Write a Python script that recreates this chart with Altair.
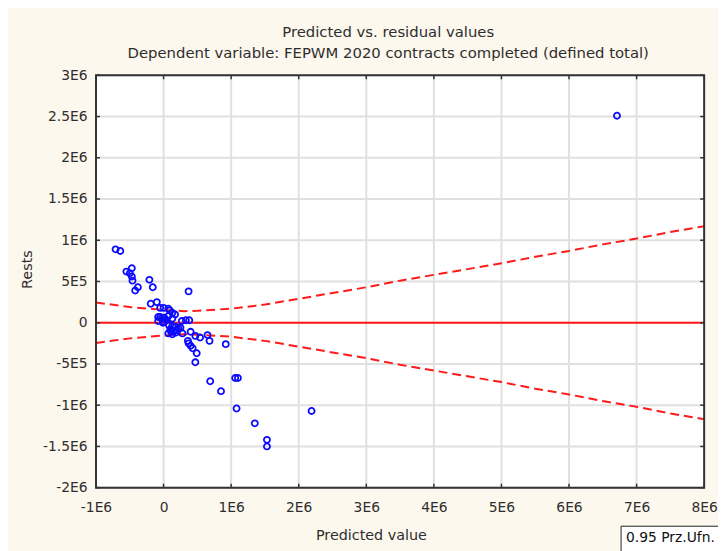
import altair as alt
import pandas as pd

# ---------------- text ----------------
title_lines = [
    "Predicted vs. residual values",
    "Dependent variable: FEPWM 2020 contracts completed (defined total)",
]
x_title = "Predicted value"
y_title = "Rests"
legend_text = "0.95 Prz.Ufn."

# ---------------- axes ----------------
x_ticks = [-1000000, 0, 1000000, 2000000, 3000000, 4000000, 5000000, 6000000, 7000000, 8000000]
x_tick_labels = ["-1E6", "0", "1E6", "2E6", "3E6", "4E6", "5E6", "6E6", "7E6", "8E6"]
y_ticks = [-2000000, -1500000, -1000000, -500000, 0, 500000, 1000000, 1500000, 2000000, 2500000, 3000000]
y_tick_labels = ["-2E6", "-1.5E6", "-1E6", "-5E5", "0", "5E5", "1E6", "1.5E6", "2E6", "2.5E6", "3E6"]
x_min, x_max = -1000000, 8000000
y_min, y_max = -2000000, 3000000

# ---------------- data (values in millions) ----------------
pred_e6 = [
    -0.71, -0.64, -0.55, -0.47, -0.50, -0.47, -0.46, -0.38, -0.42, -0.21, -0.16, 0.37,
    -0.19, -0.10, -0.05, 0.00, 0.07, 0.09, 0.13, 0.17,
    -0.08, -0.05, -0.03, 0.01, 0.04, 0.07, 0.13, 0.03, -0.08, -0.01, 0.01, 0.27, 0.33, 0.38,
    0.08, 0.13, 0.18, 0.22, 0.25, 0.10, 0.15, 0.20, 0.07, 0.13, 0.18, 0.11, 0.28,
    0.40, 0.47, 0.54, 0.65, 0.68, 0.36, 0.37, 0.40, 0.43, 0.49, 0.47, 0.92,
    0.69, 0.85, 1.06, 1.10, 1.08, 1.35, 1.53, 1.53, 2.19, 6.71,
]
resid_e6 = [
    0.89, 0.87, 0.62, 0.66, 0.60, 0.56, 0.51, 0.43, 0.39, 0.52, 0.43, 0.38,
    0.23, 0.25, 0.18, 0.18, 0.17, 0.15, 0.12, 0.10,
    0.07, 0.07, 0.05, 0.06, 0.03, 0.08, 0.05, 0.04, 0.02, 0.00, 0.01, 0.02, 0.03, 0.03,
    -0.03, -0.04, -0.05, -0.07, -0.06, -0.08, -0.10, -0.09, -0.13, -0.14, -0.12, -0.11, -0.13,
    -0.11, -0.16, -0.18, -0.15, -0.22, -0.22, -0.25, -0.28, -0.31, -0.37, -0.48, -0.26,
    -0.71, -0.83, -0.67, -0.67, -1.04, -1.22, -1.42, -1.50, -1.07, 2.51,
]

band_x_e6 = [-1.0, -0.5, 0.0, 0.3, 0.5, 1.0, 1.5, 2.0, 2.5, 3.0, 3.5, 4.0, 4.5, 5.0, 5.5, 6.0, 6.5, 7.0, 7.5, 8.0]
band_upper_e6 = [0.245, 0.19, 0.155, 0.14, 0.145, 0.17, 0.22, 0.29, 0.36, 0.43, 0.51, 0.58, 0.65, 0.72, 0.80, 0.87, 0.95, 1.02, 1.10, 1.17]
band_lower_e6 = [-0.245, -0.19, -0.155, -0.14, -0.145, -0.17, -0.22, -0.29, -0.36, -0.43, -0.51, -0.58, -0.65, -0.72, -0.80, -0.87, -0.95, -1.02, -1.10, -1.17]

# ---------------- tables ----------------
M = 1e6
pts = pd.DataFrame({"x": [v * M for v in pred_e6], "y": [v * M for v in resid_e6]})
bands = pd.DataFrame({
    "x": [v * M for v in band_x_e6] * 2,
    "y": [v * M for v in band_upper_e6] + [v * M for v in band_lower_e6],
    "band": ["upper"] * len(band_x_e6) + ["lower"] * len(band_x_e6),
})
xt = pd.DataFrame({"x": x_ticks})
yt = pd.DataFrame({"y": y_ticks})
zero = pd.DataFrame({"y": [0]})
box = pd.DataFrame({"x": [x_min], "x2": [x_max], "y": [y_min], "y2": [y_max]})
one = pd.DataFrame({"a": [0]})

# ---------------- style ----------------
W, H = 615, 417
FONT = "DejaVu Sans"
TXT = "#2e2e2e"
FRAME = "#333333"
GRID = "#e0e0e0"
RED = "#ff1a1a"
BLUE = "#0a0aff"
TL = 4

xs = alt.Scale(domain=[x_min, x_max], nice=False, zero=False)
ys = alt.Scale(domain=[y_min, y_max], nice=False, zero=False)


def label_expr(vals, labs):
    parts = [f"datum.value == {v} ? '{l}'" for v, l in zip(vals, labs)]
    return " : ".join(parts) + " : ''"


x_axis = alt.Axis(
    values=x_ticks, labelExpr=label_expr(x_ticks, x_tick_labels),
    grid=False, ticks=False, domain=False, labelFlush=False, labelOverlap=False,
    labelPadding=13, labelFontSize=14, labelFont=FONT, labelColor=TXT,
    title=x_title, titleFont=FONT, titleFontSize=14.5, titleFontWeight="normal", titleColor=TXT,
    titleX=278, titleY=41, titleBaseline="top", titleAlign="center",
)
y_axis = alt.Axis(
    values=y_ticks, labelExpr=label_expr(y_ticks, y_tick_labels),
    grid=False, ticks=False, domain=False, labelFlush=False, labelOverlap=False,
    labelPadding=9, labelFontSize=14, labelFont=FONT, labelColor=TXT,
    title=y_title, titleFont=FONT, titleFontSize=14.5, titleFontWeight="normal", titleColor=TXT,
    titleX=-69, titleY=196, titleAngle=-90, titleBaseline="middle", titleAlign="center",
)


def X(f="x"):
    return alt.X(f"{f}:Q", scale=xs, axis=x_axis)


def Y(f="y"):
    return alt.Y(f"{f}:Q", scale=ys, axis=y_axis)


grid_x = alt.Chart(xt).mark_rule(color=GRID, strokeWidth=2).encode(x=X())
grid_y = alt.Chart(yt).mark_rule(color=GRID, strokeWidth=2).encode(y=Y())

band_lines = alt.Chart(bands).mark_line(color=RED, strokeWidth=2, strokeDash=[9, 5]).encode(
    x=X(), y=Y(), detail="band:N")
zero_line = alt.Chart(zero).mark_rule(color=RED, strokeWidth=2).encode(y=Y())

points = alt.Chart(pts).mark_point(shape="circle", filled=False, color=BLUE, size=38,
                                   strokeWidth=1.8, opacity=1).encode(x=X(), y=Y())

tick_b = alt.Chart(xt).mark_rule(color=FRAME, strokeWidth=1.5).encode(
    x=X(), y=alt.value(H), y2=alt.value(H - TL))
tick_t = alt.Chart(xt).mark_rule(color=FRAME, strokeWidth=1.5).encode(
    x=X(), y=alt.value(0), y2=alt.value(TL))
tick_l = alt.Chart(yt).mark_rule(color=FRAME, strokeWidth=1.5).encode(
    y=Y(), x=alt.value(0), x2=alt.value(TL))
tick_r = alt.Chart(yt).mark_rule(color=FRAME, strokeWidth=1.5).encode(
    y=Y(), x=alt.value(W - TL), x2=alt.value(W))

frame = alt.Chart(box).mark_rect(fillOpacity=0, stroke=FRAME, strokeWidth=2).encode(
    x=X("x"), x2="x2:Q", y=Y("y"), y2="y2:Q")

legend_box = alt.Chart(one).mark_rect(fill="white", stroke="#222222", strokeWidth=1).encode(
    x=alt.value(531), x2=alt.value(720), y=alt.value(456), y2=alt.value(520))
legend_lbl = alt.Chart(one).mark_text(align="left", baseline="middle", font=FONT, fontSize=14,
                                      color="#111111").encode(
    x=alt.value(536), y=alt.value(468), text=alt.value(legend_text))

chart = alt.layer(
    grid_x, grid_y, band_lines, zero_line, points,
    tick_b, tick_t, tick_l, tick_r, frame, legend_box, legend_lbl,
).properties(
    width=W, height=H,
    title=alt.TitleParams(
        text=title_lines, font=FONT, fontSize=15, fontWeight="normal", color=TXT,
        anchor="middle", frame="group", dx=-12, offset=-7, lineHeight=21, baseline="bottom",
    ),
    autosize=alt.AutoSizeParams(type="none"),
    padding={"left": 89, "top": 65, "right": 14, "bottom": 61},
    background="#fdf8ee",
).configure_view(fill="white", stroke="transparent")

chart.save("out.html", embed_options={"renderer": "svg", "actions": False,
                                      "defaultStyle": "html, body { overflow: hidden; }"})
